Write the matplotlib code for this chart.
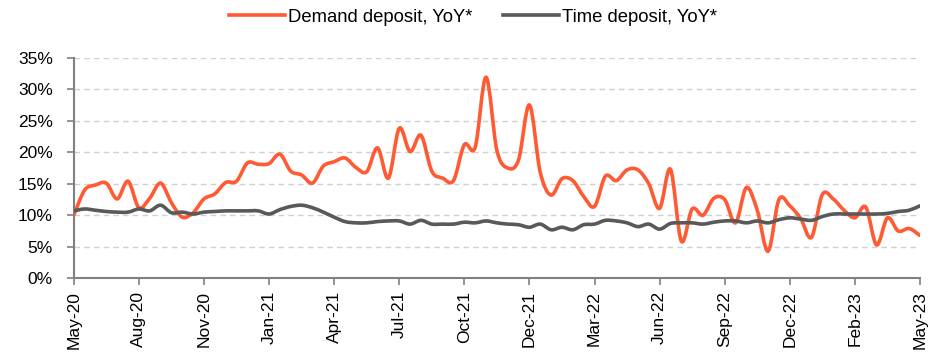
import matplotlib.pyplot as plt
from matplotlib.lines import Line2D
from matplotlib.patches import PathPatch
from matplotlib.path import Path

plt.rcParams["font.family"] = ["Liberation Sans", "DejaVu Sans"]

# Year-on-year growth of deposits, %
DEMAND_YOY = [
    10.0, 14.0, 14.8, 15.1, 12.6, 15.4, 11.2, 12.7, 15.1, 12.0,
    9.7, 10.4, 12.6, 13.4, 15.2, 15.4, 18.3, 18.1, 18.2, 19.7,
    17.0, 16.4, 15.1, 17.8, 18.5, 19.1, 17.6, 16.9, 20.7, 15.9,
    23.8, 20.1, 22.7, 17.0, 15.9, 15.5, 21.2, 20.8, 31.9, 20.3,
    17.5, 18.8, 27.5, 16.8, 13.2, 15.8, 15.5, 13.0, 11.4, 16.2,
    15.5, 17.2, 17.2, 15.0, 11.1, 17.3, 5.9, 11.0, 10.0, 12.7,
    12.5, 8.8, 14.4, 10.8, 4.3, 12.5, 11.5, 9.5, 6.5, 13.3,
    12.6, 10.8, 9.6, 11.3, 5.3, 9.6, 7.5, 7.9, 6.8,
]
TIME_YOY = [
    10.7, 11.0, 10.8, 10.6, 10.5, 10.5, 11.0, 10.7, 11.6, 10.4,
    10.5, 10.2, 10.5, 10.6, 10.7, 10.7, 10.7, 10.7, 10.2, 10.9,
    11.4, 11.6, 11.2, 10.5, 9.7, 9.0, 8.8, 8.8, 9.0, 9.1,
    9.1, 8.6, 9.2, 8.6, 8.6, 8.6, 8.9, 8.8, 9.1, 8.8,
    8.6, 8.5, 8.1, 8.6, 7.7, 8.1, 7.7, 8.5, 8.6, 9.2,
    9.1, 8.8, 8.2, 8.6, 7.8, 8.7, 8.8, 8.8, 8.6, 8.9,
    9.1, 9.1, 8.8, 9.1, 8.8, 9.3, 9.6, 9.4, 9.2, 9.8,
    10.2, 10.2, 10.2, 10.2, 10.2, 10.3, 10.6, 10.8, 11.5,
]
TICK_LABELS = [
    "May-20", "Aug-20", "Nov-20", "Jan-21", "Apr-21", "Jul-21", "Oct-21",
    "Dec-21", "Mar-22", "Jun-22", "Sep-22", "Dec-22", "Feb-23", "May-23",
]
TICK_STEP = 6

ORANGE = "#FF5A33"
GRAY = "#595959"
AXIS_GRAY = "#808080"
LW = 2.6


def smooth_path(ys):
    """Bezier path through every point, spreadsheet-style smoothed line."""
    pts = list(enumerate(ys))
    verts = [pts[0]]
    codes = [Path.MOVETO]
    n = len(pts)
    for i in range(n - 1):
        p0 = pts[max(i - 1, 0)]
        p1 = pts[i]
        p2 = pts[i + 1]
        p3 = pts[min(i + 2, n - 1)]
        c1 = (p1[0] + (p2[0] - p0[0]) / 6, p1[1] + (p2[1] - p0[1]) / 6)
        c2 = (p2[0] - (p3[0] - p1[0]) / 6, p2[1] - (p3[1] - p1[1]) / 6)
        verts += [c1, c2, p2]
        codes += [Path.CURVE4] * 3
    return Path(verts, codes)


fig = plt.figure(figsize=(9.46, 3.53), dpi=100)
ax = fig.add_axes([0.078, 0.2116, 0.8945, 0.6249])

for ys, color in ((DEMAND_YOY, ORANGE), (TIME_YOY, GRAY)):
    ax.add_patch(PathPatch(smooth_path(ys), facecolor="none", edgecolor=color,
                           lw=LW, joinstyle="round", capstyle="round",
                           zorder=3))

ax.set_xlim(0, len(DEMAND_YOY) - 1)
ax.set_ylim(0, 35)
ax.set_yticks(range(0, 36, 5))
ax.set_yticklabels([f"{v}%" for v in range(0, 36, 5)])
ax.set_xticks(range(0, len(DEMAND_YOY), TICK_STEP))
ax.set_xticklabels(TICK_LABELS, rotation=90)

ax.grid(axis="y", linestyle=(0, (4, 3)), color="#d0d0d0", lw=1.0)
ax.set_axisbelow(True)
for side in ("top", "right"):
    ax.spines[side].set_visible(False)
for side in ("left", "bottom"):
    ax.spines[side].set_color(AXIS_GRAY)
    ax.spines[side].set_linewidth(1.5)
ax.tick_params(axis="both", direction="out", length=5, width=1.2,
               color=AXIS_GRAY, labelsize=12.5, labelcolor="black")
ax.tick_params(axis="y", pad=10)
ax.tick_params(axis="x", pad=4)

handles = [
    Line2D([], [], color=ORANGE, lw=LW, label="Demand deposit, YoY*"),
    Line2D([], [], color=GRAY, lw=LW, label="Time deposit, YoY*"),
]
fig.legend(handles=handles, loc="center", bbox_to_anchor=(0.5, 1 - 17 / 353),
           ncol=2, frameon=False, fontsize=13.3, handlelength=3.0,
           handletextpad=0.15, columnspacing=1.7)

fig.savefig("out.png", dpi=100)
